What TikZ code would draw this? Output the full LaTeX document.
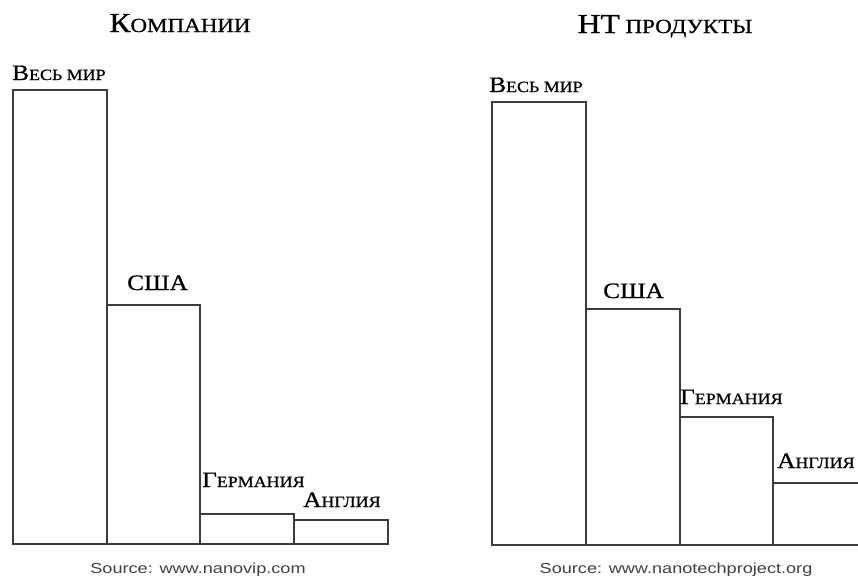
\documentclass[tikz,border=0pt]{standalone}
\usepackage{fontspec}
\setmainfont[FakeStretch=1.15,FakeBold=0.8]{Liberation Serif}
\setsansfont[FakeStretch=1.25]{Liberation Sans}
\usetikzlibrary{positioning}
\definecolor{barline}{RGB}{60,60,60}
\tikzstyle{bar}=[draw=barline,line width=1.1pt,fill=white]
\tikzstyle{lbl}=[anchor=base west,inner sep=0pt,text=black]
\tikzstyle{ttl}=[anchor=base,inner sep=0pt,text=black]
\tikzstyle{src}=[anchor=base,inner sep=0pt,text=black!75,font=\sffamily\fontsize{14.5}{14.5}\selectfont]
\newcommand{\lblsc}[2]{{\fontsize{22}{22}\selectfont#1}{\fontsize{15.6}{15.6}\selectfont#2}}
\newcommand{\ttlsc}[2]{{\fontsize{27.5}{27.5}\selectfont#1}{\fontsize{20}{20}\selectfont#2}}
\begin{document}
\begin{tikzpicture}[x=1pt,y=-1pt]
\useasboundingbox (0,0) rectangle (858,576);
% left chart: companies
\draw[bar] (13,544) rectangle (107,90);
\draw[bar] (107,544) rectangle (200,305);
\draw[bar] (200,544) rectangle (294,514);
\draw[bar] (294,544) rectangle (388,520);
\draw (180,32) node [ttl] (t1) {\ttlsc{К}{ОМПАНИИ}};
\draw (12,80) node [lbl] (w1) {\lblsc{В}{ЕСЬ МИР}};
\draw (127,290) node [lbl] (u1) {\lblsc{США}{}};
\draw (202,487) node [lbl] (g1) {\lblsc{Г}{ЕРМАНИЯ}};
\draw (303,507) node [lbl] (e1) {\lblsc{А}{НГЛИЯ}};
\draw (198,573) node [src] (s1) {Source: www.nanovip.com};
% right chart: products
\draw[bar] (492,545) rectangle (586,102);
\draw[bar] (586,545) rectangle (680,309);
\draw[bar] (680,545) rectangle (773,417);
\draw[bar] (773,545) rectangle (870,483);
\draw (665,33) node [ttl] (t2) {\ttlsc{НТ}{ ПРОДУКТЫ}};
\draw (489,92) node [lbl] (w2) {\lblsc{В}{ЕСЬ МИР}};
\draw (603,298) node [lbl] (u2) {\lblsc{США}{}};
\draw (680,404) node [lbl] (g2) {\lblsc{Г}{ЕРМАНИЯ}};
\draw (777,468) node [lbl] (e2) {\lblsc{А}{НГЛИЯ}};
\draw (676,573) node [src] (s2) {Source: www.nanotechproject.org};
\end{tikzpicture}
\end{document}
